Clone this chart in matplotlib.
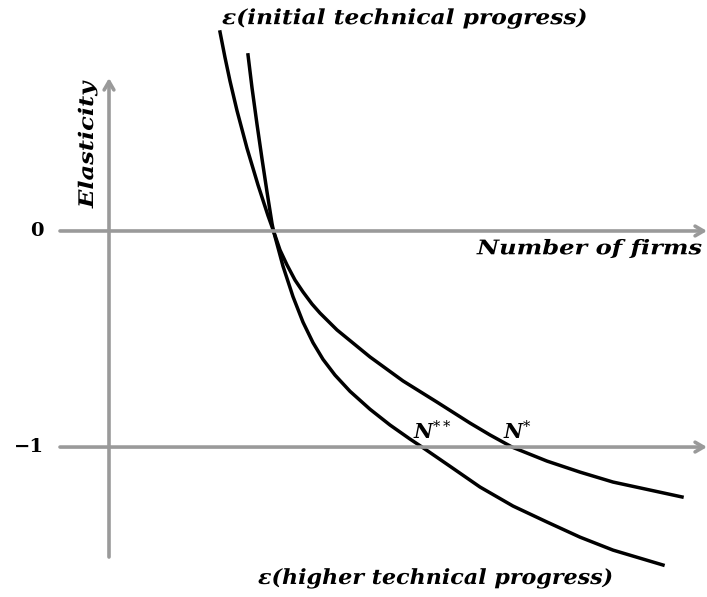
import matplotlib
matplotlib.use("Agg")
import matplotlib.pyplot as plt
from matplotlib.patheffects import AbstractPathEffect
from matplotlib.transforms import Affine2D

plt.rcParams["mathtext.fontset"] = "dejavuserif"

# Curve data (x = number of firms, arbitrary units; y = elasticity)
initial_x = [1.11, 1.16, 1.21, 1.28, 1.38, 1.49, 1.59, 1.645, 1.71, 1.78, 1.86, 1.94,
             2.03, 2.11, 2.28, 2.61, 2.94, 3.28, 3.61, 3.81, 4.03, 4.38, 4.71, 5.04,
             5.41, 5.73]
initial_y = [0.921, 0.803, 0.694, 0.557, 0.383, 0.213, 0.071, 0.0, -0.088, -0.157,
             -0.227, -0.282, -0.338, -0.380, -0.458, -0.583, -0.694, -0.792, -0.889,
             -0.944, -1.0, -1.065, -1.116, -1.162, -1.199, -1.231]

higher_x = [1.39, 1.43, 1.48, 1.53, 1.58, 1.63, 1.645, 1.74, 1.84, 1.94, 2.04, 2.14,
            2.26, 2.41, 2.61, 2.81, 3.01, 3.13, 3.41, 3.71, 4.04, 4.38, 4.71, 5.04, 5.54]
higher_y = [0.815, 0.663, 0.494, 0.334, 0.181, 0.035, 0.0, -0.163, -0.304, -0.422,
            -0.517, -0.594, -0.667, -0.742, -0.825, -0.898, -0.963, -1.0, -1.089,
            -1.185, -1.273, -1.347, -1.417, -1.477, -1.546]

ytick_vals = [0, -1]
ytick_labels = ["0", "\u22121"]


class StretchX(AbstractPathEffect):
    """Widen glyphs along the text direction (the reference font is wider)."""
    def __init__(self, sx):
        super().__init__()
        self.sx = sx

    def draw_path(self, renderer, gc, tpath, affine, rgbFace=None):
        renderer.draw_path(gc, tpath, Affine2D().scale(self.sx, 1.0) + affine, rgbFace)


fig = plt.figure(figsize=(7.07, 5.97), dpi=100)
ax = fig.add_axes([0, 0, 1, 1])
ax.set_xlim(-1.09, 5.98)
ax.set_ylim(-1.694, 1.069)
ax.axis("off")

gray = "#9a9a9a"
lw_axis = 2.6
font = dict(family="DejaVu Serif", weight="bold", style="italic")
arrow = dict(arrowstyle="->,head_length=0.6,head_width=0.35",
             color=gray, lw=lw_axis, shrinkA=0, shrinkB=0)

for yv in ytick_vals:
    ax.annotate("", xy=(5.98, yv), xytext=(-0.49, yv), arrowprops=arrow)
ax.annotate("", xy=(0, 0.708), xytext=(0, -1.509), arrowprops=arrow)

ax.plot(initial_x, initial_y, color="black", lw=2.5, solid_joinstyle="round")
ax.plot(higher_x, higher_y, color="black", lw=2.5, solid_joinstyle="round")

for yv, lab in zip(ytick_vals, ytick_labels):
    ax.text(-0.65, yv, lab, ha="right", va="center", fontsize=14,
            family="DejaVu Serif", weight="bold")

ax.text(-0.22, 0.106, "Elasticity", rotation=90, rotation_mode="anchor",
        ha="left", va="center", fontsize=14.5, path_effects=[StretchX(1.2)], **font)
ax.text(3.68, -0.08, "Number of firms", ha="left", va="center", fontsize=14.5,
        path_effects=[StretchX(1.2)], **font)
ax.text(1.13, 0.985, "\u03b5(initial technical progress)", ha="left", va="center",
        fontsize=15, path_effects=[StretchX(1.12)], **font)
ax.text(1.49, -1.606, "\u03b5(higher technical progress)", ha="left", va="center",
        fontsize=15, path_effects=[StretchX(1.065)], **font)
ax.text(3.04, -0.93, "$\\mathbfit{N}^{**}$", ha="left", va="center", fontsize=15)
ax.text(3.94, -0.93, "$\\mathbfit{N}^{*}$", ha="left", va="center", fontsize=15)

fig.savefig("out.png", dpi=100)
